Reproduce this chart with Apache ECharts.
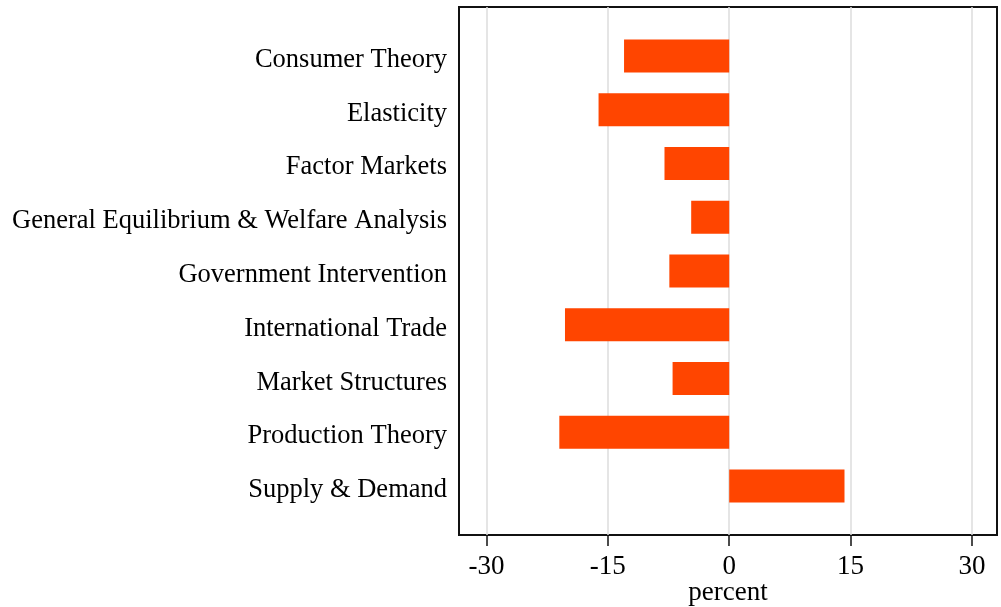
<!DOCTYPE html>
<html><head><meta charset="utf-8">
<script src="https://cdn.jsdelivr.net/npm/echarts@6/dist/echarts.min.js"></script>
<style>html,body{margin:0;padding:0;background:#fff}#c{width:1001px;height:607px}</style>
</head><body><div id="c"></div>
<script>
const categories = ["Consumer Theory","Elasticity","Factor Markets","General Equilibrium & Welfare Analysis","Government Intervention","International Trade","Market Structures","Production Theory","Supply & Demand"];
const values = [-13.0,-16.15,-8.0,-4.7,-7.4,-20.3,-7.0,-21.0,14.25];
const xTicks = [-30,-15,0,15,30];
const xTitle = "percent";
const XMIN = -33.4, XMAX = 33.1;
const FONT = "Liberation Serif";

const chart = echarts.init(document.getElementById('c'), null, {renderer:'canvas'});
chart.setOption({
  animation:false,
  grid:[
    {left:459, right:4, top:29, bottom:94, show:false, containLabel:false, outerBoundsMode:'none'},
    {left:459, right:4, top:7, bottom:72, show:true, borderColor:'#111', borderWidth:2, backgroundColor:'transparent', z:0, containLabel:false, outerBoundsMode:'none'}
  ],
  xAxis:[
    {gridIndex:0, type:'value', min:XMIN, max:XMAX, show:false},
    {gridIndex:1, type:'value', min:XMIN, max:XMAX,
     axisLine:{show:false},
     axisTick:{show:true, customValues:xTicks, length:11, lineStyle:{color:'#111', width:1.5}},
     axisLabel:{customValues:xTicks, color:'#000', fontFamily:FONT, fontSize:27, margin:18},
     splitLine:{show:true, lineStyle:{color:'#dcdcdc', width:1.5}},
     name:xTitle, nameLocation:'middle', nameGap:44, nameMoveOverlap:false,
     nameTextStyle:{color:'#000', fontFamily:FONT, fontSize:27}}
  ],
  yAxis:[
    {gridIndex:0, type:'category', data:categories, inverse:true,
     axisLine:{show:false}, axisTick:{show:false},
     axisLabel:{color:'#000', fontFamily:FONT, fontSize:26.5, margin:12,
       formatter: v => '{a|' + v + '}',
       rich:{a:{color:'#000', fontFamily:FONT, fontSize:26.5, padding:[8,0,0,0]}}}},
    {gridIndex:1, type:'value', show:false, min:0, max:1}
  ],
  series:[{
    type:'bar', xAxisIndex:0, yAxisIndex:0, data:values, barWidth:33,
    itemStyle:{color:'#ff4500'}
  }]
});
</script></body></html>
